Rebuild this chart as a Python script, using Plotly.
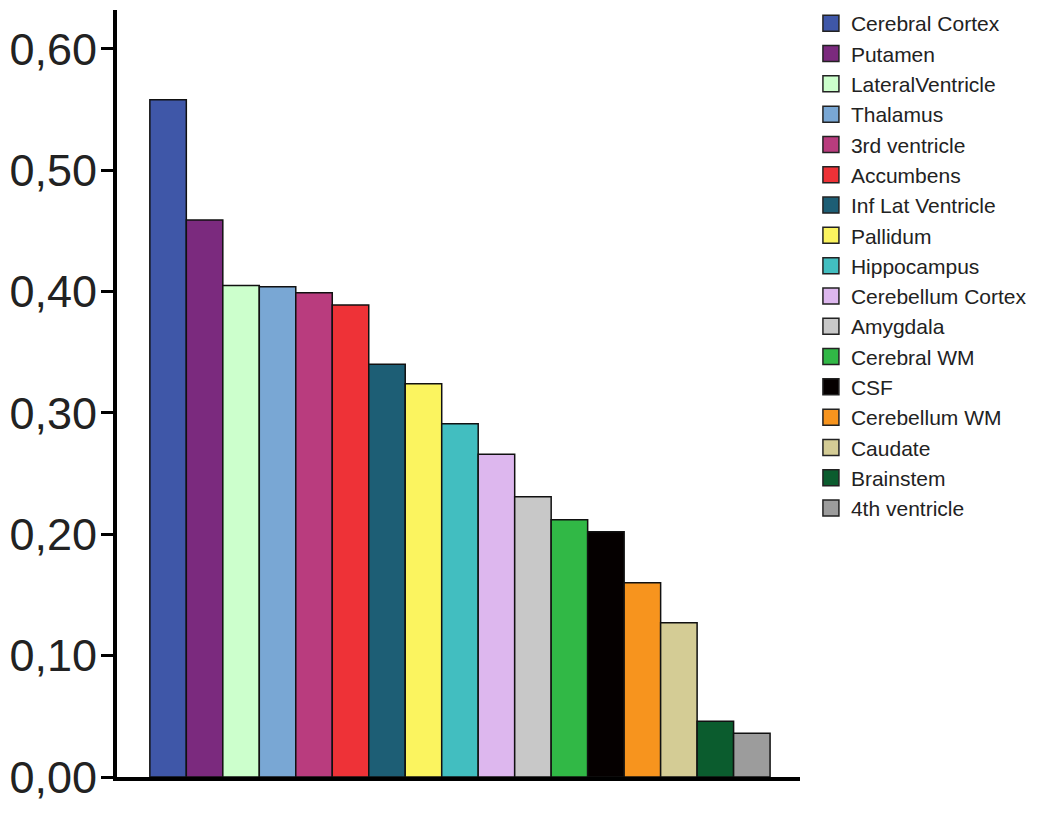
import plotly.graph_objects as go

regions = ["Cerebral Cortex", "Putamen", "LateralVentricle", "Thalamus", "3rd ventricle",
           "Accumbens", "Inf Lat Ventricle", "Pallidum", "Hippocampus", "Cerebellum Cortex",
           "Amygdala", "Cerebral WM", "CSF", "Cerebellum WM", "Caudate", "Brainstem",
           "4th ventricle"]
values = [0.558, 0.459, 0.405, 0.404, 0.399, 0.389, 0.340, 0.324, 0.291, 0.266,
          0.231, 0.212, 0.202, 0.160, 0.127, 0.046, 0.036]
colors = ["#3F57A8", "#7B2A7E", "#CCFFCC", "#79A7D4", "#B93C7E", "#EE3237", "#1D5E75",
          "#FBF45F", "#42BEC0", "#DDB7EE", "#C8C8C8", "#31B846", "#050000", "#F7941E",
          "#D4CC95", "#0B5C2E", "#9C9C9C"]
y_ticks = [0.0, 0.1, 0.2, 0.3, 0.4, 0.5, 0.6]

FONT = "Liberation Sans, Arial, sans-serif"

fig = go.Figure()
for i, (name, val, col) in enumerate(zip(regions, values, colors)):
    fig.add_trace(go.Bar(
        x=[i], y=[val], width=1, name=name, showlegend=False,
        marker=dict(color=col, line=dict(color="#111111", width=1.5)),
    ))
for name, col in zip(regions, colors):
    fig.add_trace(go.Scatter(
        x=[None], y=[None], mode="markers", name=name,
        marker=dict(symbol="square", size=22, color=col,
                    line=dict(color="#222222", width=1.5)),
    ))

fig.update_layout(
    width=1050, height=817,
    margin=dict(l=109, r=258, t=1.5, b=48, autoexpand=False),
    paper_bgcolor="white", plot_bgcolor="white",
    barmode="overlay",
    separators=",.",
    font=dict(family=FONT, color="#222222"),
    legend=dict(
        x=1.016, xanchor="left", y=1.009, yanchor="top",
        font=dict(family=FONT, size=21, color="#222222"),
        tracegroupgap=0, bgcolor="rgba(0,0,0,0)", maxheight=800,
    ),
    xaxis=dict(
        range=[-1.4, 17.32], showgrid=False, zeroline=False,
        showticklabels=False, ticks="", automargin=False,
        showline=True, linewidth=4, linecolor="black",
    ),
    yaxis=dict(
        range=[0, 0.632], showgrid=False, zeroline=False, automargin=False,
        tickvals=y_ticks, tickformat=".2f",
        ticks="outside", ticklen=12, tickwidth=3, tickcolor="black",
        ticklabelstandoff=-5,
        tickfont=dict(family=FONT, size=45, color="#222222"),
        showline=True, linewidth=4, linecolor="black",
    ),
)

fig.write_html("out.html")
